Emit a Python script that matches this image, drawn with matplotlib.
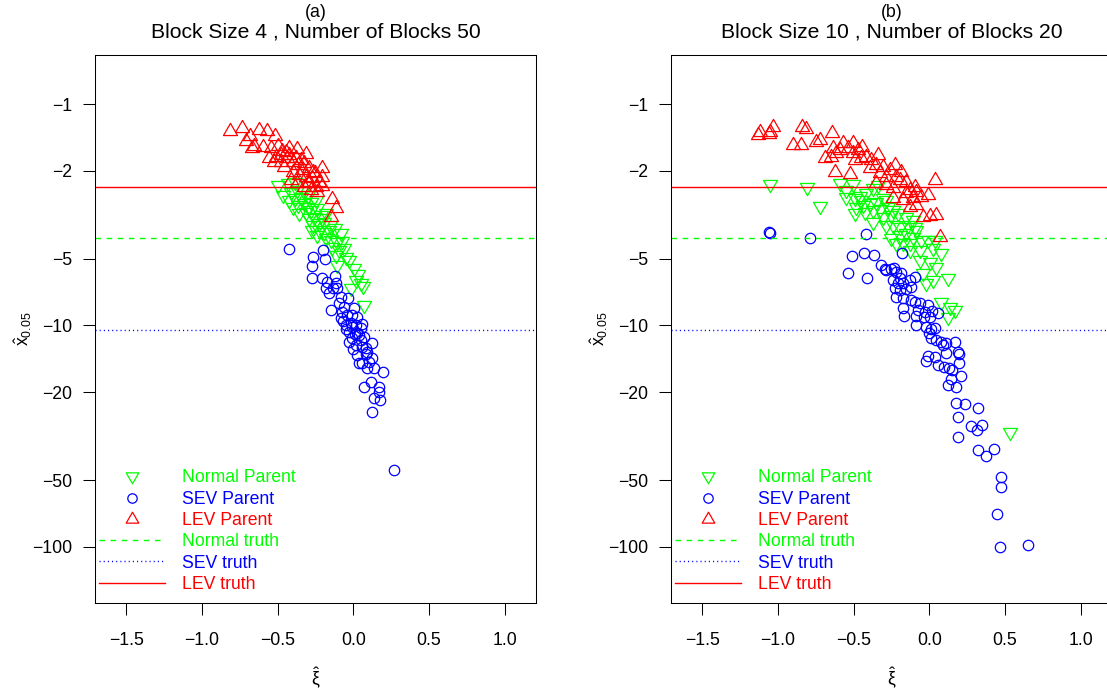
import numpy as np
import matplotlib
matplotlib.use("Agg")
import matplotlib.pyplot as plt
from matplotlib.path import Path
from matplotlib.lines import Line2D

plt.rcParams['font.family'] = ['Liberation Sans', 'DejaVu Sans']
plt.rcParams['mathtext.fontset'] = 'custom'
plt.rcParams['mathtext.rm'] = 'Liberation Sans'
plt.rcParams['mathtext.it'] = 'Liberation Sans'
plt.rcParams['lines.scale_dashes'] = False

# ---------------- data ----------------
panel_tags = ["(a)", "(b)"]
panel_titles = ["Block Size 4 , Number of Blocks 50",
                "Block Size 10 , Number of Blocks 20"]

# true 0.05 quantiles of each parent
truth_normal = -4.04
truth_sev = -10.5
truth_lev = -2.36

# panel (a): block size 4, 50 blocks
normal_a_xi = [-0.500, -0.434, -0.384, -0.467, -0.412, -0.375, -0.335, -0.423, -0.384, -0.346,
               -0.302, -0.401, -0.362, -0.324, -0.280, -0.248, -0.357, -0.313, -0.280, -0.237,
               -0.291, -0.259, -0.215, -0.182, -0.265, -0.226, -0.193, -0.155, -0.226, -0.193,
               -0.160, -0.120, -0.083, -0.182, -0.149, -0.105, -0.072, -0.138, -0.094, -0.061,
               -0.105, -0.028, 0.005, 0.033, 0.049, -0.017, 0.064, 0.070, 0.016, -0.050,
               -0.116, -0.204, -0.302, -0.270, -0.237]
normal_a_q = [-2.317, -2.277, -2.238, -2.571, -2.483, -2.44, -2.44, -2.709, -2.661, -2.616,
              -2.571, -2.902, -2.852, -2.803, -2.774, -2.709, -3.111, -3.058, -3.005, -2.953,
              -3.277, -3.221, -3.166, -3.111, -3.513, -3.452, -3.393, -3.513, -3.701, -3.765,
              -3.701, -3.637, -3.831, -4.036, -4.107, -4.178, -4.150, -4.402, -4.557, -4.479,
              -5.328, -5.057, -5.516, -5.871, -6.449, -6.792, -6.607, -8.08, -6.228, -4.884,
              -4.800, -3.277, -2.902, -3.701, -3.898]

sev_a_xi = [-0.423, -0.197, -0.186, -0.265, -0.270, -0.270, -0.204, -0.120, -0.171, -0.134,
            -0.105, -0.160, -0.083, -0.033, -0.149, -0.094, -0.061, -0.083, -0.039, -0.006,
            0.027, -0.050, -0.017, 0.016, -0.028, 0.027, -0.006, 0.049, 0.070, 0.016,
            0.059, 0.125, 0.092, 0.027, 0.125, 0.059, 0.038, 0.092, 0.136, 0.195,
            0.114, 0.070, 0.169, 0.169, 0.136, 0.174, 0.125, -0.116, -0.072, 0.005,
            0.049, 0.081, -0.182, -0.028, 0.103, 0.272, -0.010, 0.040, 0.000, 0.085,
            -0.070, 0.060, 0.010, -0.045]
sev_a_q = [-4.526, -4.557, -5.005, -4.884, -5.364, -6.079, -6.121, -5.953, -6.338, -6.745,
           -6.792, -7.155, -7.408, -7.485, -8.51, -7.94, -8.22, -9.28, -8.97, -8.97,
           -9.12, -9.95, -9.78, -9.95, -10.66, -10.85, -11.43, -11.63, -11.23, -12.25,
           -12.46, -12.04, -13.13, -13.6, -14.08, -14.83, -14.83, -15.62, -15.51, -16.28,
           -17.94, -18.91, -18.91, -19.92, -21.35, -21.72, -24.53, -6.449, -8.66, -8.37,
           -10.3, -12.69, -6.792, -11.83, -14.57, -45.0, -10.2, -11.0, -12.8, -13.5,
           -9.5, -9.8, -10.9, -10.4]

lev_a_xi = [-0.813, -0.737, -0.682, -0.620, -0.572, -0.517, -0.708, -0.653, -0.598, -0.668,
            -0.543, -0.500, -0.471, -0.427, -0.375, -0.313, -0.555, -0.511, -0.478, -0.441,
            -0.401, -0.362, -0.324, -0.291, -0.208, -0.252, -0.456, -0.401, -0.357, -0.313,
            -0.274, -0.226, -0.208, -0.375, -0.324, -0.280, -0.243, -0.138, -0.116, -0.147,
            -0.522, -0.423, -0.379, -0.335, -0.291, -0.412, -0.478, -0.248, -0.445, -0.346,
            -0.269, -0.302, -0.204]
lev_a_q = [-1.32, -1.284, -1.386, -1.307, -1.32, -1.386, -1.465, -1.538, -1.555, -1.582,
           -1.571, -1.538, -1.626, -1.582, -1.593, -1.684, -1.755, -1.725, -1.817, -1.755,
           -1.817, -1.881, -1.849, -1.948, -1.934, -2.052, -1.914, -2.017, -2.087, -2.124,
           -2.161, -2.238, -2.333, -2.277, -2.358, -2.44, -2.483, -2.68, -2.953, -3.23,
           -1.817, -1.695, -1.755, -1.982, -2.238, -2.199, -1.695, -2.358, -1.637, -1.786,
           -2.017, -2.277, -2.124]

# panel (b): block size 10, 20 blocks
normal_b_xi = [-1.050, -0.806, -0.725, -0.593, -0.549, -0.504, -0.553, -0.493, -0.460, -0.416,
               -0.372, -0.339, -0.482, -0.438, -0.394, -0.350, -0.306, -0.493, -0.427, -0.372,
               -0.328, -0.273, -0.372, -0.306, -0.251, -0.207, -0.152, -0.108, -0.284, -0.240,
               -0.196, -0.141, -0.097, -0.251, -0.196, -0.152, -0.108, -0.053, -0.009, 0.035,
               -0.218, -0.130, -0.064, 0.024, 0.079, -0.064, 0.002, 0.046, -0.042, 0.024,
               0.123, -0.020, 0.079, 0.134, 0.123, 0.167, -0.130, -0.174, -0.086, -0.284,
               -0.449, -0.240, 0.530]
normal_b_q = [-2.293, -2.358, -2.883, -2.277, -2.44, -2.293, -2.616, -2.661, -2.598, -2.526,
              -2.399, -2.317, -2.902, -2.852, -2.803, -2.755, -2.661, -3.111, -3.058, -3.005,
              -2.984, -2.902, -3.393, -3.221, -3.166, -3.111, -3.221, -3.335, -3.513, -3.513,
              -3.574, -3.513, -3.574, -4.036, -3.898, -3.831, -3.967, -4.107, -4.107, -4.107,
              -4.252, -4.252, -4.557, -4.479, -4.718, -5.057, -5.146, -5.421, -5.811, -6.228,
              -6.121, -6.449, -7.803, -8.22, -9.12, -8.51, -4.557, -4.252, -3.701, -2.709,
              -2.709, -3.005, -30.2]

sev_b_xi = [-1.059, -1.050, -0.791, -0.421, -0.509, -0.432, -0.366, -0.181, -0.317, -0.295,
            -0.236, -0.537, -0.412, -0.284, -0.251, -0.218, -0.185, -0.196, -0.240, -0.207,
            -0.174, -0.130, -0.097, -0.229, -0.196, -0.152, -0.119, -0.218, -0.174, -0.119,
            -0.097, -0.064, -0.009, -0.174, -0.075, -0.031, 0.020, 0.057, -0.170, -0.086,
            -0.038, 0.006, -0.086, -0.020, 0.013, 0.035, -0.003, 0.013, 0.046, 0.079,
            0.112, 0.167, 0.090, -0.009, 0.035, 0.112, 0.189, 0.196, -0.020, 0.057,
            0.094, 0.127, 0.152, 0.196, 0.145, 0.211, 0.123, 0.178, 0.178, 0.233,
            0.321, 0.189, 0.277, 0.350, 0.315, 0.189, 0.321, 0.372, 0.425, 0.475,
            0.475, 0.447, 0.464, 0.654]
sev_b_q = [-3.765, -3.805, -4.036, -3.858, -4.851, -4.686, -4.800, -4.718, -5.328, -5.573,
           -5.516, -5.811, -6.121, -5.612, -5.573, -5.711, -5.811, -6.121, -6.228, -6.449,
           -6.449, -6.228, -6.017, -6.792, -6.911, -6.863, -6.675, -7.408, -7.537, -7.670,
           -7.803, -7.885, -8.085, -8.37, -8.51, -8.66, -8.57, -8.81, -9.06, -9.06,
           -9.19, -9.19, -9.95, -10.19, -10.33, -10.23, -10.77, -11.43, -11.63, -11.83,
           -12.04, -11.83, -12.25, -13.74, -13.93, -13.36, -13.13, -13.46, -14.42, -15.09,
           -15.35, -15.62, -15.89, -14.83, -17.46, -16.86, -18.58, -18.91, -22.34, -22.64,
           -23.69, -26.02, -28.48, -28.18, -29.69, -31.81, -36.55, -38.9, -36.29, -48.58,
           -53.55, -71.15, -100.7, -97.9]

lev_b_xi = [-1.132, -1.121, -1.050, -1.033, -1.059, -0.839, -0.817, -0.901, -0.846, -0.747,
            -0.725, -0.641, -0.692, -0.648, -0.615, -0.571, -0.593, -0.538, -0.504, -0.472,
            -0.443, -0.493, -0.449, -0.416, -0.383, -0.339, -0.350, -0.306, -0.262, -0.229,
            -0.185, -0.626, -0.527, -0.350, -0.284, -0.240, -0.196, -0.152, -0.130, -0.086,
            -0.053, 0.035, -0.009, -0.240, -0.174, -0.130, -0.086, -0.042, 0.002, 0.046,
            0.068, -0.284, -0.394, -0.218, -0.108, -0.504, -0.637, -0.328, -0.097, -0.152]
lev_b_q = [-1.377, -1.33, -1.33, -1.262, -1.362, -1.262, -1.298, -1.528, -1.528, -1.476,
           -1.45, -1.353, -1.755, -1.725, -1.666, -1.501, -1.609, -1.582, -1.501, -1.609,
           -1.555, -1.786, -1.755, -1.725, -1.786, -1.695, -1.881, -1.914, -1.982, -1.881,
           -2.017, -2.017, -2.066, -2.277, -2.317, -2.399, -2.199, -2.238, -2.44, -2.483,
           -2.616, -2.199, -2.571, -2.661, -2.709, -2.902, -2.852, -3.221, -3.199, -3.166,
           -3.967, -2.124, -1.948, -2.124, -2.661, -1.666, -1.582, -2.052, -2.358, -2.526]

y_ticks = [-1, -2, -5, -10, -20, -50, -100]
x_ticks = [-1.5, -1.0, -0.5, 0.0, 0.5, 1.0]
legend_labels = ["Normal Parent", "SEV Parent", "LEV Parent",
                 "Normal truth", "SEV truth", "LEV truth"]

GREEN, BLUE, RED = "#00FF00", "#0000FF", "#FF0000"

# ---------------- markers (R-style open symbols) ----------------
def triangle(up=True):
    s = 1.0 if up else -1.0
    verts = [(0, 1.5551 * s), (1.3468, -0.7776 * s), (-1.3468, -0.7776 * s), (0, 1.5551 * s)]
    codes = [Path.MOVETO, Path.LINETO, Path.LINETO, Path.CLOSEPOLY]
    return Path(verts, codes)

TRI_UP = triangle(True)
TRI_DOWN = triangle(False)
CIRC_MS = 7.5
TRI_MS = CIRC_MS * 1.5551
MEW = 0.9
LW = 1.0


def fwd(y):
    with np.errstate(all="ignore"):
        return -np.log10(np.maximum(-np.asarray(y, dtype=float), 1e-300))


def inv(t):
    return -10.0 ** (-np.asarray(t, dtype=float))


W, H = 1107, 696
fig = plt.figure(figsize=(W / 100, H / 100), dpi=100)

ax_w = 441.5 / W
ax_h = 548.0 / H
ax_b = (H - 603.0) / H
lefts = [94.7 / W, 670.7 / W]

series = [
    (normal_a_xi, normal_a_q, sev_a_xi, sev_a_q, lev_a_xi, lev_a_q),
    (normal_b_xi, normal_b_q, sev_b_xi, sev_b_q, lev_b_xi, lev_b_q),
]

FS = 12.7
for i, left in enumerate(lefts):
    ax = fig.add_axes([left, ax_b, ax_w, ax_h])
    ax.set_yscale("function", functions=(fwd, inv))
    nx, nq, sx, sq, lx, lq = series[i]

    ax.plot(nx, nq, ls="none", marker=TRI_DOWN, ms=TRI_MS, mfc="none", mec=GREEN, mew=MEW)
    ax.plot(sx, sq, ls="none", marker="o", ms=CIRC_MS, mfc="none", mec=BLUE, mew=MEW)
    ax.plot(lx, lq, ls="none", marker=TRI_UP, ms=TRI_MS, mfc="none", mec=RED, mew=MEW)

    ax.axhline(truth_normal, color=GREEN, lw=LW, dashes=(4, 4))
    ax.axhline(truth_sev, color=BLUE, lw=LW, dashes=(0.8, 2.2))
    ax.axhline(truth_lev, color=RED, lw=LW)

    ax.set_xlim(-1.708, 1.208)
    ax.set_ylim(-179.7, -0.5986)
    ax.set_xticks(x_ticks)
    ax.set_xticklabels([f"{v:.1f}".replace("-", "\u2212") for v in x_ticks])
    ax.set_yticks(y_ticks)
    ax.set_yticklabels([str(v).replace("-", "\u2212") for v in y_ticks])
    ax.minorticks_off()
    ax.tick_params(axis="both", direction="out", length=8.3, width=0.75,
                   labelsize=FS, color="black")
    ax.tick_params(axis="x", pad=12.4)
    ax.tick_params(axis="y", pad=7.7)
    for sp in ax.spines.values():
        sp.set_linewidth(0.75)
        sp.set_color("black")

    handles = [
        Line2D([], [], ls="none", marker=TRI_DOWN, ms=TRI_MS, mfc="none", mec=GREEN, mew=MEW, color=GREEN),
        Line2D([], [], ls="none", marker="o", ms=CIRC_MS, mfc="none", mec=BLUE, mew=MEW, color=BLUE),
        Line2D([], [], ls="none", marker=TRI_UP, ms=TRI_MS, mfc="none", mec=RED, mew=MEW, color=RED),
        Line2D([], [], color=GREEN, lw=LW, dashes=(4, 4)),
        Line2D([], [], color=BLUE, lw=LW, dashes=(0.8, 2.2)),
        Line2D([], [], color=RED, lw=LW),
    ]
    ax.legend(handles, legend_labels, loc="lower left", bbox_to_anchor=(0.0104, 0.0183),
              frameon=False, fontsize=FS, handlelength=3.74, handletextpad=0.93,
              labelspacing=0.245, borderpad=0, borderaxespad=0, markerscale=0.9,
              labelcolor=[GREEN, BLUE, RED, GREEN, BLUE, RED])

    cx = left + ax_w / 2
    fig.text(cx, 1 - 12.5 / H, panel_tags[i], ha="center", va="center", fontsize=FS)
    fig.text(cx, 1 - 32.5 / H, panel_titles[i], ha="center", va="center", fontsize=15.2)
    fig.text(cx, 18.0 / H, r"$\hat{\mathrm{\xi}}$", ha="center", va="center", fontsize=FS)
    fig.text(left - 72.0 / W, ax_b + ax_h / 2, r"$\hat{\mathrm{x}}_{0.05}$", ha="center",
             va="center", rotation=90, fontsize=FS)

fig.savefig("out.png", dpi=100)
